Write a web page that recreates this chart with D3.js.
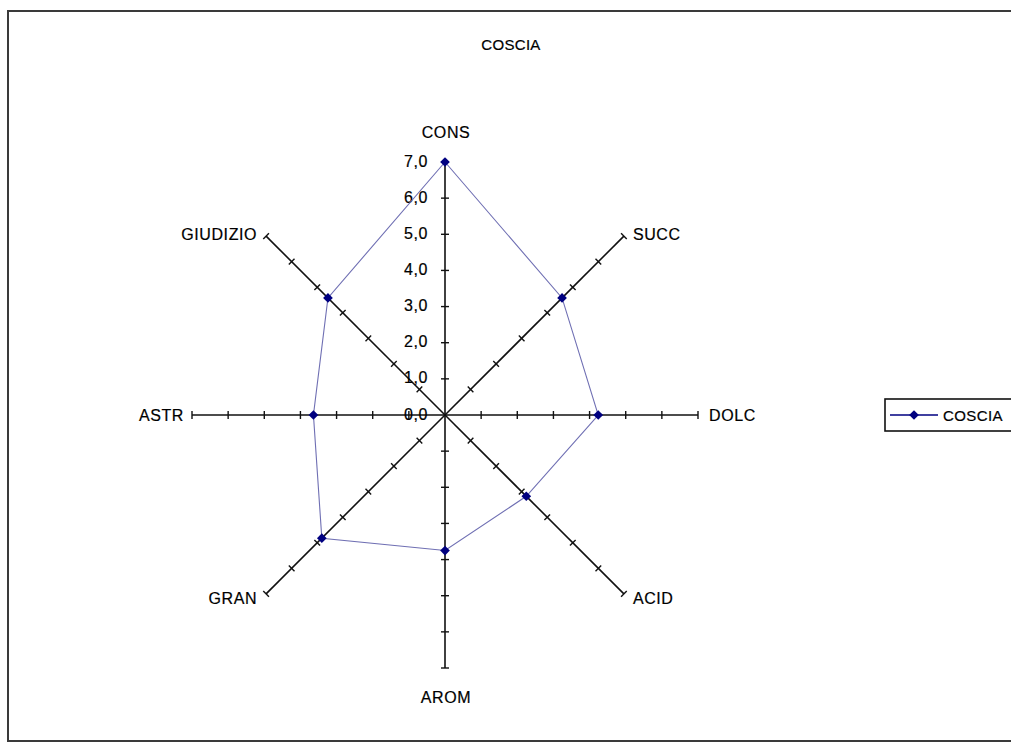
<!DOCTYPE html>
<html>
<head>
<meta charset="utf-8">
<script src="https://cdn.jsdelivr.net/npm/d3@7"></script>
<style>
  html, body { margin: 0; padding: 0; background: #fff; overflow: hidden; }
  svg { display: block; overflow: hidden; }
  svg text { font-family: "Liberation Sans", Arial, sans-serif; fill: #000; stroke: #000; stroke-width: 0.2px; }
</style>
</head>
<body>
<svg id="chart" width="1011" height="749"></svg>
<script>
// Radar data: one series scored on eight sensory attributes
const categories = ["CONS", "SUCC", "DOLC", "ACID", "AROM", "GRAN", "ASTR", "GIUDIZIO"];
const seriesName = "COSCIA";
const seriesValues = [7.0, 4.58, 4.24, 3.18, 3.75, 4.82, 3.64, 4.58];
const tickValues = [0, 1, 2, 3, 4, 5, 6, 7];
const chartTitle = "COSCIA";

const svg = d3.select("#chart");
const W = 1011;
const cx = 445, cy = 415, R = 253;

const itFormat = d3.formatLocale({ decimal: ",", thousands: ".", grouping: [3], currency: ["", "€"] }).format(".1f");

// chart frame (its right side runs past the page edge)
svg.append("path")
  .attr("d", `M${W + 5},11 H8 V741 H${W + 5}`)
  .attr("fill", "none").attr("stroke", "#3a3a3a").attr("stroke-width", 2);

// title
svg.append("text")
  .attr("x", 511).attr("y", 44)
  .attr("text-anchor", "middle").attr("dominant-baseline", "central")
  .style("font-size", "15px").style("letter-spacing", "0.3px")
  .text(chartTitle);

const r = d3.scaleLinear().domain([0, 7]).range([0, R]);
const angle = d3.scaleLinear().domain([0, categories.length]).range([0, 2 * Math.PI]);

const g = svg.append("g").attr("transform", `translate(${cx},${cy})`);

// spokes with perpendicular tick marks
categories.forEach((cat, i) => {
  const a = angle(i);
  const ux = Math.sin(a), uy = -Math.cos(a);
  const px = -uy, py = ux; // perpendicular
  g.append("line")
    .attr("x1", 0).attr("y1", 0)
    .attr("x2", ux * r(7)).attr("y2", uy * r(7))
    .attr("stroke", "#111").attr("stroke-width", 1.6);
  tickValues.filter(v => v > 0).forEach(v => {
    const tx = ux * r(v), ty = uy * r(v);
    g.append("line")
      .attr("x1", tx - px * 4).attr("y1", ty - py * 4)
      .attr("x2", tx + px * 4).attr("y2", ty + py * 4)
      .attr("stroke", "#111").attr("stroke-width", 1.4);
  });

  // category label just beyond the spoke end
  const ex = ux * r(7), ey = uy * r(7);
  let lx, ly, anchor;
  if (Math.abs(ux) < 0.01) {
    anchor = "middle"; lx = ex + 1; ly = ey + (uy < 0 ? -30 : 29);
  } else if (Math.abs(uy) < 0.01) {
    anchor = ux > 0 ? "start" : "end"; lx = ex + (ux > 0 ? 11 : -8); ly = ey;
  } else {
    anchor = ux > 0 ? "start" : "end"; lx = ex + (ux > 0 ? 9 : -9); ly = ey + (uy < 0 ? -2 : 5);
  }
  g.append("text")
    .attr("x", lx).attr("y", ly)
    .attr("text-anchor", anchor).attr("dominant-baseline", "central")
    .style("font-size", "16px").style("letter-spacing", "0.6px")
    .text(cat);
});

// value labels along the first spoke
g.selectAll("text.tick")
  .data(tickValues)
  .join("text")
  .attr("class", "tick")
  .attr("x", -17).attr("y", d => -r(d) - 1)
  .attr("text-anchor", "end").attr("dominant-baseline", "central")
  .style("font-size", "16px").style("letter-spacing", "0.6px")
  .text(d => itFormat(d));

// series polygon
const pts = seriesValues.map((v, i) => [Math.sin(angle(i)) * r(v), -Math.cos(angle(i)) * r(v)]);
g.append("path")
  .attr("d", d3.line().curve(d3.curveLinearClosed)(pts))
  .attr("fill", "none").attr("stroke", "#6f6fb3").attr("stroke-width", 1.1);

const diamond = d3.symbol().type(d3.symbolDiamond2).size(60);
g.selectAll("path.marker")
  .data(pts)
  .join("path")
  .attr("class", "marker")
  .attr("transform", d => `translate(${d[0]},${d[1]})`)
  .attr("d", diamond)
  .attr("fill", "#000080");

// legend
const lg = svg.append("g");
lg.append("rect")
  .attr("x", 885).attr("y", 399).attr("width", 140).attr("height", 32)
  .attr("fill", "#fff").attr("stroke", "#111").attr("stroke-width", 1.6);
lg.append("line")
  .attr("x1", 890).attr("y1", 415).attr("x2", 938).attr("y2", 415)
  .attr("stroke", "#000080").attr("stroke-width", 1.5);
lg.append("path")
  .attr("transform", "translate(914,415)")
  .attr("d", diamond)
  .attr("fill", "#000080");
lg.append("text")
  .attr("x", 943).attr("y", 415)
  .attr("dominant-baseline", "central")
  .style("font-size", "15px").style("letter-spacing", "0.4px")
  .text(seriesName);
</script>
</body>
</html>
